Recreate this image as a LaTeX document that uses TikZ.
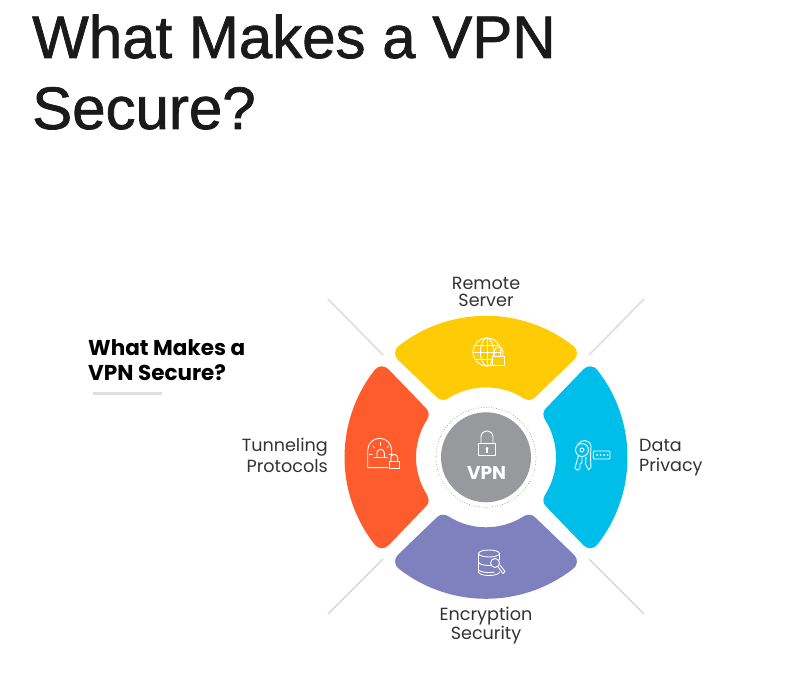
\documentclass[tikz,border=0pt]{standalone}
\usepackage{fontspec}
\setmainfont{Liberation Sans}
\newfontfamily\titlefont[FakeBold=1.2]{Liberation Sans}
\newfontfamily\labelfont{Poppins}
\usetikzlibrary{positioning}
\definecolor{titleink}{HTML}{1A1A1A}
\definecolor{labelink}{HTML}{333333}
\definecolor{leader}{HTML}{E0E0E0}
\definecolor{serveryellow}{HTML}{FFCB05}
\definecolor{tunnelorange}{HTML}{FF5C2E}
\definecolor{privacyblue}{HTML}{00BEEA}
\definecolor{cryptpurple}{HTML}{7F81BF}
\definecolor{hubgray}{HTML}{97999D}
\tikzset{
  headline/.style={anchor=base west,inner sep=0pt,text=titleink,font=\titlefont\fontsize{60}{72}\selectfont},
  ringlabel/.style={inner sep=0pt,text=labelink,font=\labelfont\fontsize{17.6}{17.5}\selectfont},
  leaderline/.style={draw=leader,line width=1.8pt},
  petal/.style={fill=#1,draw=#1,line width=18pt,line join=round},
  icon/.style={draw=white,line width=.9pt,line cap=round,line join=round},
  lockicon/.pic={
    \draw[icon,fill=#1] (-1,0) rectangle (1,1.43);
    \draw[icon] (-.69,1.43) -- (-.69,2.15) arc (180:0:.69) -- (.69,1.43);
  }
}
\begin{document}
\begin{tikzpicture}[x=1pt,y=1pt]
  \useasboundingbox (0,0) rectangle (797,672);

  \path
  (32,614) node[headline](title1) {What Makes a VPN}
  (32,543) node[headline](title2) {Secure?}
  (88,312) node[anchor=west,inner sep=0pt,align=left,text=black,
    font=\labelfont\bfseries\fontsize{21.5}{25}\selectfont](heading) {What Makes a\\VPN Secure?}
  (486,380) node[ringlabel,align=center](remote) {Remote\\Server}
  (328,216.5) node[ringlabel,anchor=east,align=right,
    font=\labelfont\fontsize{17.6}{20.5}\selectfont](tunnel) {Tunneling\\Protocols}
  (639,214.5) node[ringlabel,anchor=west,align=left,
    font=\labelfont\fontsize{17.6}{20.5}\selectfont](data) {Data\\Privacy}
  (486,46.5) node[ringlabel,align=center](encrypt) {Encryption\\Security}
  ;

  % rule under the heading
  \coordinate (rule1) at (93,278);
  \coordinate (rule2) at (162,278);
  \draw[draw=leader,line width=3pt] (rule1) -- (rule2);

  % leaders at the corners
  \coordinate (ul1) at (328,373);
  \coordinate (ul2) at (383,317);
  \coordinate (ur1) at (644,373);
  \coordinate (ur2) at (589,317);
  \coordinate (ll1) at (328,58);
  \coordinate (ll2) at (383,113);
  \coordinate (lr1) at (644,58);
  \coordinate (lr2) at (589,113);
  \draw[leaderline] (ul1) -- (ul2);
  \draw[leaderline] (ur1) -- (ur2);
  \draw[leaderline] (ll1) -- (ll2);
  \draw[leaderline] (lr1) -- (lr2);

  % the four ring segments
  \foreach \rot/\col in {0/serveryellow,90/tunnelorange,180/cryptpurple,270/privacyblue}{
    \begin{scope}[shift={(486,214.7)},rotate=\rot]
      \path[petal=\col] (51.8:132.5) arc (51.8:128.2:132.5)
        -- (122.8:79) arc (122.8:57.2:79) -- cycle;
    \end{scope}
  }

  % hub
  \path
  (486,214.7) node[circle,draw=gray,dotted,line width=.6pt,
    minimum size=100pt,inner sep=0pt](ring) {}
  (486,214.7) node[circle,fill=hubgray,minimum size=90pt,inner sep=0pt](hub) {}
  (486.5,198.5) node[inner sep=0pt,text=white,
    font=\labelfont\bfseries\fontsize{18.5}{20}\selectfont](vpn) {VPN}
  ;
  \path (487,216.3) pic[scale=8.7] {lockicon=hubgray};
  \fill[white] (487,223.6) circle (1.5pt);
  \fill[white] (486.3,219) rectangle (487.7,223.6);

  % globe
  \draw[icon] (487,320) circle (14);
  \draw[icon] (487,320) ellipse (6.5 and 14);
  \draw[icon] (487,334) -- (487,306);
  \draw[icon] (473,320) -- (501,320);
  \draw[icon] (475,327) -- (499,327);
  \draw[icon] (475,313) -- (499,313);
  \path (498.6,307) pic[scale=6.3] {lockicon=serveryellow};

  % beacon under a dome
  \draw[icon] (388,204.3) -- (367.7,204.3) -- (367.7,221.7) arc (180:0:12) -- (391.7,216);
  \draw[icon] (377,214.5) -- (377,219) arc (180:0:3.7) -- (384.4,214.5);
  \draw[icon] (374,214.3) -- (387.3,214.3);
  \foreach \ang in {0,45,90,135,180}{
    \draw[icon,line width=.6pt] (380.7,218)++(\ang:8.5) -- ++(\ang:3);
  }
  \path (394.2,203.7) pic[scale=4.9] {lockicon=tunnelorange};

  % keys and password box
  \draw[icon] (578,227.5) .. controls (580,233) and (590,233) .. (591,226)
    -- (590.5,215) -- (591,205) -- (588.5,202) -- (585.5,208) -- (586,215);
  \draw[icon,fill=privacyblue] (582,222) circle (6.5);
  \draw[icon] (582,222) circle (2);
  \draw[icon] (578.5,216.5) -- (575,204) -- (577.5,201.5) -- (580,204) -- (580,208)
    -- (582,209.5) -- (582,215.5);
  \draw[icon,rounded corners=1pt] (593.3,213) rectangle (610,221);
  \foreach \dotx in {597,600.5,604,607.5}{
    \fill[white] (\dotx,217) circle (1pt);
  }

  % database and key
  \draw[icon] (489,118.5) ellipse (10.5 and 3.5);
  \draw[icon] (478.5,118.5) -- (478.5,100) arc (180:360:10.5 and 3.5);
  \draw[icon] (499.5,118.5) -- (499.5,112);
  \draw[icon] (478.5,110) arc (180:320:10.5 and 3.5);
  \draw[icon] (478.5,102.5) arc (180:300:10.5 and 3);
  \draw[icon,fill=cryptpurple] (495,109) circle (4.5);
  \draw[icon] (497.8,105.5) -- (503,98.5) -- (505,100.5) -- (500,107);
\end{tikzpicture}
\end{document}
